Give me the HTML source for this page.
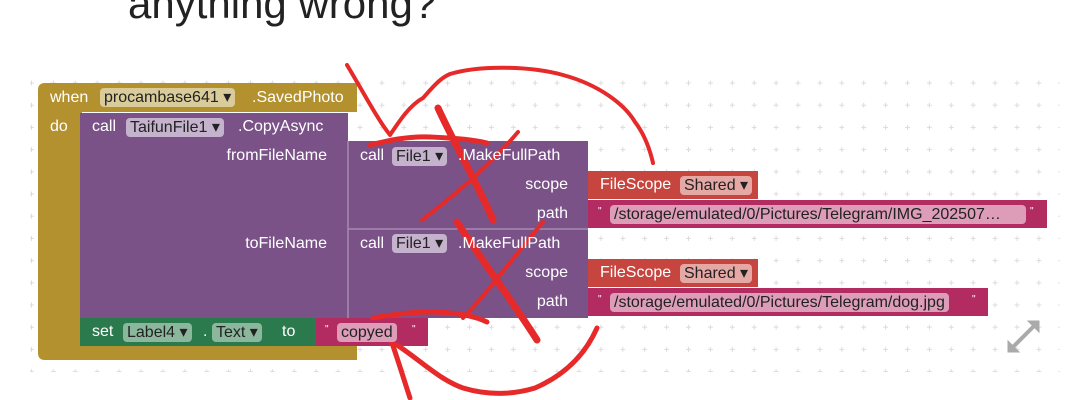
<!DOCTYPE html>
<html><head><meta charset="utf-8"><style>
body{margin:0;width:1079px;height:400px;background:#fff;position:relative;overflow:hidden;font-family:"Liberation Sans",sans-serif}
.a{position:absolute}
.t{position:absolute;color:#fff;font-size:16px;white-space:nowrap;line-height:18px;top:0}
.r{text-align:right;width:120px}
.dd{position:absolute;border-radius:4px;font-size:16px;color:#222;line-height:19px;padding:0 4px;white-space:nowrap}
</style></head><body>
<div class="a" style="left:128px;top:-20px;font-size:42px;color:#222;line-height:48px">anything wrong?</div>
<svg class="a" style="left:0;top:0" width="1079" height="400">
<defs><pattern id="g" x="579" y="83" width="21.9" height="22.2" patternUnits="userSpaceOnUse">
<path d="M0 -2.5V2.5M-2.5 0H2.5M21.9 -2.5V2.5M19.4 0H24.4M0 19.7V24.7M-2.5 22.2H2.5M21.9 19.7V24.7M19.4 22.2H24.4" stroke="#dcdcdc" stroke-width="1"/></pattern></defs>
<rect x="30" y="72" width="1030" height="300" fill="url(#g)"/>
<path d="M38 90q0-7 7-7h312v29H82v233h275v15H45q-7 0-7-7z" fill="#b3912f"/>
<rect x="80" y="113" width="268" height="205" fill="#7a5288"/>
<rect x="348" y="141" width="240" height="177" fill="#7a5288"/>
<line x1="348" y1="141" x2="348" y2="318" stroke="#a58ab0" stroke-width="1.5"/>
<line x1="348" y1="229" x2="588" y2="229" stroke="#a58ab0" stroke-width="1.5"/>
<rect x="588" y="171" width="170" height="28" fill="#c6463f"/>
<rect x="588" y="259" width="170" height="28" fill="#c6463f"/>
<rect x="588" y="200" width="459" height="28" fill="#b22c62"/>
<rect x="588" y="288" width="400" height="28" fill="#b22c62"/>
<rect x="80" y="318" width="240" height="28" fill="#2b7a4e"/>
<rect x="316" y="318" width="112" height="28" fill="#b22c62"/>
<g stroke="#aaa" stroke-width="4" fill="#aaa"><line x1="1012" y1="348" x2="1034" y2="326"/><path d="M1008 352v-11l11 11z" stroke-width="1"/><path d="M1039 321v11l-11-11z" stroke-width="1"/></g>
<g stroke="#e62a2a" fill="none" stroke-linecap="round" stroke-linejoin="round">
<path stroke-width="4" d="M347 65C365 95 378 120 390 135C400 120 410 105 423 98C432 88 440 78 450 74C480 65 530 66 563 75C600 85 625 105 635 122C645 135 650 150 653 163"/>
<path stroke-width="5" d="M370 145C390 140 410 136 430 137C455 138 475 140 487 143"/>
<path stroke-width="7" d="M438 108C455 145 478 185 493 220"/>
<path stroke-width="4" d="M518 132C490 165 455 195 422 220"/>
<path stroke-width="7" d="M457 222C485 265 515 305 537 340"/>
<path stroke-width="4" d="M543 222C515 255 490 290 463 318"/>
<path stroke-width="5" d="M373 318C395 314 415 312 430 312C455 312 475 316 487 322"/>
<path stroke-width="5" d="M392 343C398 360 404 380 410 398"/>
<path stroke-width="5" d="M397 345C420 360 440 380 463 388C490 396 515 394 535 388C565 375 585 355 597 328"/>
</g>
</svg>
<div class="dd" style="left:100px;top:88px;background:#d9cc9a">procambase641 ▾</div>
<div class="dd" style="left:126px;top:118px;background:#c5b2cc">TaifunFile1 ▾</div>
<div class="dd" style="left:392px;top:147px;background:#c5b2cc">File1 ▾</div>
<div class="dd" style="left:392px;top:234px;background:#c5b2cc">File1 ▾</div>
<div class="dd" style="left:680px;top:176px;background:#e5a8a4">Shared ▾</div>
<div class="dd" style="left:680px;top:264px;background:#e5a8a4">Shared ▾</div>
<div class="dd" style="left:610px;top:205px;background:#dd9cb7;width:408px;overflow:hidden">/storage/emulated/0/Pictures/Telegram/IMG_202507…</div>
<div class="dd" style="left:610px;top:293px;background:#dd9cb7">/storage/emulated/0/Pictures/Telegram/dog.jpg</div>
<div class="dd" style="left:123px;top:323px;background:#8bb89c">Label4 ▾</div>
<div class="dd" style="left:212px;top:323px;background:#8bb89c">Text ▾</div>
<div class="dd" style="left:337px;top:323px;background:#dd9cb7">copyed</div>
<div class="t" style="left:50px;top:89px">when</div>
<div class="t" style="left:252px;top:89px">.SavedPhoto</div>
<div class="t" style="left:50px;top:118px">do</div>
<div class="t" style="left:92px;top:118px">call</div>
<div class="t" style="left:238px;top:118px">.CopyAsync</div>
<div class="t r" style="left:207px;top:147px">fromFileName</div>
<div class="t r" style="left:207px;top:235px">toFileName</div>
<div class="t" style="left:360px;top:147px">call</div>
<div class="t" style="left:458px;top:147px">.MakeFullPath</div>
<div class="t" style="left:360px;top:235px">call</div>
<div class="t" style="left:458px;top:235px">.MakeFullPath</div>
<div class="t r" style="left:448px;top:176px">scope</div>
<div class="t r" style="left:448px;top:205px">path</div>
<div class="t r" style="left:448px;top:264px">scope</div>
<div class="t r" style="left:448px;top:293px">path</div>
<div class="t" style="left:600px;top:176px">FileScope</div>
<div class="t" style="left:600px;top:264px">FileScope</div>
<div class="t" style="left:92px;top:323px">set</div>
<div class="t" style="left:203px;top:323px">.</div>
<div class="t" style="left:282px;top:323px">to</div>
<div class="t" style="left:598px;top:203px;font-size:10px">"</div>
<div class="t" style="left:1030px;top:203px;font-size:10px">"</div>
<div class="t" style="left:598px;top:291px;font-size:10px">"</div>
<div class="t" style="left:972px;top:291px;font-size:10px">"</div>
<div class="t" style="left:325px;top:321px;font-size:10px">"</div>
<div class="t" style="left:412px;top:321px;font-size:10px">"</div>
</body></html>
